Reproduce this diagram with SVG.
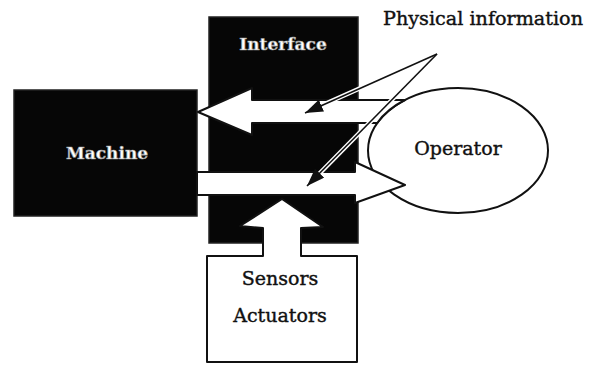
<svg xmlns="http://www.w3.org/2000/svg" width="591" height="366" viewBox="0 0 591 366">
  <style>
    .dark { fill: #060606; stroke: #222; stroke-width: 1.5; }
    .shape { fill: #ffffff; stroke: #111; stroke-width: 2; stroke-linejoin: round; }
    .lbl { font-family: "DejaVu Serif", "Liberation Serif", serif; font-size: 19px; fill: #111; stroke: #111; stroke-width: 0.4; }
    .inv { font-family: "DejaVu Serif", "Liberation Serif", serif; font-weight: bold; font-size: 17px; fill: #ffffff; stroke: #9a9a9a; stroke-width: 0.6; }
    .halo { fill: none; stroke: #ffffff; stroke-width: 4.5; }
    .lead { fill: none; stroke: #111; stroke-width: 1.6; }
  </style>
  <defs>
    <marker id="head" viewBox="0 0 18 13" refX="18" refY="6.5" markerWidth="18" markerHeight="13" markerUnits="userSpaceOnUse" orient="auto">
      <path d="M0,0 L18,6.5 L0,13 Z" fill="#111"/>
    </marker>
  </defs>
  <rect width="591" height="366" fill="#ffffff"/>

  <g id="interface">
    <rect class="dark" x="209" y="17" width="149" height="226"/>
    <text class="inv" x="283" y="50" text-anchor="middle">Interface</text>
  </g>

  <g id="machine">
    <rect class="dark" x="14" y="90" width="183" height="126"/>
    <text class="inv" x="107" y="159" text-anchor="middle">Machine</text>
  </g>

  <g id="operator">
    <ellipse class="shape" cx="458" cy="150.5" rx="90" ry="62.5"/>
    <text class="lbl" x="458" y="155" text-anchor="middle">Operator</text>
  </g>

  <g id="sensors">
    <path class="shape" d="M207,362 L207,256 L263,256 L263,228 L240,226 L282,199 L323,227 L301,228 L301,256 L357,256 L357,362 Z"/>
    <text class="lbl" x="280" y="285" text-anchor="middle">Sensors</text>
    <text class="lbl" x="280" y="322" text-anchor="middle">Actuators</text>
  </g>

  <g id="connectors">
    <path id="to-machine" class="shape" d="M405,100 L252,100 L252,88 L198,112 L252,135 L252,123 L377.2,123 A90,62.5 0 0 1 405,100 Z"/>
    <path id="to-operator" class="shape" d="M197,172 L355,172 L355,162 L405,185 L355,203 L355,195 L197,195 Z"/>
    <line class="halo" x1="437" y1="54" x2="318" y2="107"/>
    <line class="halo" x1="437" y1="54" x2="318" y2="175"/>
    <line class="lead" x1="437" y1="54" x2="305" y2="113" marker-end="url(#head)"/>
    <line class="lead" x1="437" y1="54" x2="307" y2="186" marker-end="url(#head)"/>
  </g>

  <g id="physical-information">
    <text class="lbl" x="383" y="25" textLength="200" lengthAdjust="spacingAndGlyphs">Physical information</text>
  </g>
</svg>
